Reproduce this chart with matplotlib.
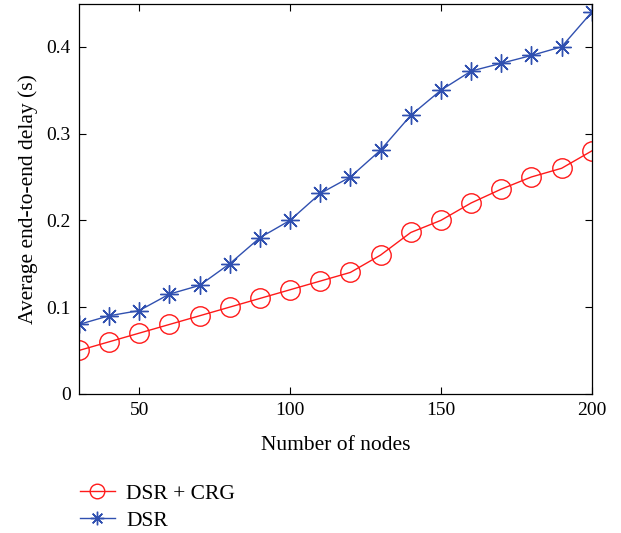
import numpy as np
import matplotlib
matplotlib.use("Agg")
import matplotlib.pyplot as plt

nodes = [30, 40, 50, 60, 70, 80, 90, 100, 110, 120, 130, 140, 150, 160, 170, 180, 190, 200]
dsr_crg = [0.05, 0.06, 0.07, 0.08, 0.09, 0.10, 0.11, 0.12, 0.13, 0.14, 0.16, 0.186, 0.20, 0.22, 0.236, 0.25, 0.26, 0.28]
dsr = [0.08, 0.09, 0.096, 0.115, 0.125, 0.15, 0.18, 0.20, 0.231, 0.25, 0.281, 0.321, 0.35, 0.372, 0.381, 0.39, 0.40, 0.44]

xticks = [50, 100, 150, 200]
yticks = [0, 0.1, 0.2, 0.3, 0.4]
yticklabels = ["0", "0.1", "0.2", "0.3", "0.4"]

plt.rcParams['font.family'] = ['Liberation Serif', 'DejaVu Serif']
plt.rcParams['font.size'] = 14

fig = plt.figure(figsize=(6.21, 5.33), dpi=100)
ax = fig.add_axes([0.127, 0.261, 0.826, 0.731])

red = "#ff1a1a"
blue = "#3050b0"
asterisk = (8, 2, 0)
l1, = ax.plot(nodes, dsr_crg, color=red, lw=1.0, marker="o", markersize=14,
              markerfacecolor="none", markeredgecolor=red, markeredgewidth=1.0,
              label="DSR + CRG")
l2, = ax.plot(nodes, dsr, color=blue, lw=1.0, marker=asterisk, markersize=13,
              markeredgewidth=1.0, label="DSR")

ax.set_xlim(30, 200)
ax.set_ylim(0, 0.449)
ax.set_xticks(xticks)
ax.set_xticklabels([str(t) for t in xticks])
ax.set_yticks(yticks)
ax.set_yticklabels(yticklabels)
ax.tick_params(direction="in", top=True, right=True, length=5, width=0.8, pad=6)
for s in ax.spines.values():
    s.set_linewidth(0.9)

ax.set_xlabel("Number of nodes", labelpad=12, fontsize=15.5)
ax.set_ylabel("Average end-to-end delay (s)", labelpad=6, fontsize=15.5)

fig.legend(handles=[l1, l2], loc="upper left", bbox_to_anchor=(0.129, 0.092),
           frameon=False, handlelength=1.6, handletextpad=0.55, labelspacing=0.3,
           borderaxespad=0, borderpad=0, fontsize=15.5, markerscale=0.75)

fig.savefig("out.png", dpi=100)
